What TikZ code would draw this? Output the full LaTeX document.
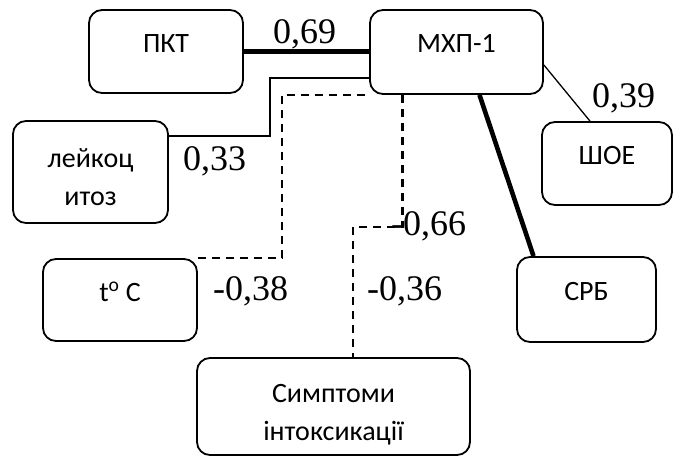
\documentclass[tikz,border=0pt]{standalone}
\usepackage{fontspec}
\setmainfont{Carlito}
\newfontfamily\numfont{Liberation Serif}
\usetikzlibrary{calc}
\newcommand{\boxtxt}[2]{\raisebox{#1}[0pt][0pt]{#2}}
\begin{document}
\begin{tikzpicture}[x=1pt,y=-1pt,
  box/.style={draw, line width=1.8pt, rounded corners=13pt, inner sep=0pt,
              font=\fontsize{28}{38}\selectfont},
  val/.style={font=\numfont\fontsize{36}{36}\selectfont, inner sep=0pt, anchor=base west},
  solidlink/.style={line width=1.3pt},
  heavylink/.style={line width=4.6pt},
  dashlink/.style={line width=2.4pt, dash pattern=on 8pt off 6pt}]
\useasboundingbox (0,0) rectangle (685,456);

\node[box, minimum width=154pt, minimum height=83pt] (pkt) at (166,51.5) {\boxtxt{-0.5pt}{ПКТ}};
\node[box, minimum width=173pt, minimum height=84pt] (mhp) at (456.5,52) {\boxtxt{-0.5pt}{МХП-1}};
\node[box, minimum width=130pt, minimum height=83pt] (shoe) at (607,163.5) {\boxtxt{-0.5pt}{ШОЕ}};
\node[box, minimum width=155pt, minimum height=102pt] (leuk) at (90.5,172)
  {\boxtxt{-33pt}{\begin{tabular}[b]{@{}c@{}}лейкоц\\итоз\end{tabular}}};
\node[box, minimum width=154pt, minimum height=82pt] (tc) at (120,300) {\boxtxt{-1pt}{t\textsuperscript{o} C}};
\node[box, minimum width=139pt, minimum height=85pt] (srb) at (586.5,299.5) {\boxtxt{-0.5pt}{СРБ}};
\node[box, minimum width=273pt, minimum height=97pt] (symp) at (333.5,406.5)
  {\boxtxt{-33.5pt}{\begin{tabular}[b]{@{}c@{}}Симптоми\\інтоксикації\end{tabular}}};

% connectors
\draw[heavylink] (pkt.east) -- (pkt.east -| mhp.west);
\draw[solidlink] ([yshift=-13pt]mhp.east) -- ([xshift=-17pt]shoe.north);
\draw[solidlink] ([yshift=36pt]leuk.east) -- ++(101pt,0pt) |- ([yshift=-26pt]mhp.west);
\draw[dashlink] (tc.north east) -| ($(mhp.south west)+(-87pt,0pt)$) -- (mhp.south west);
\draw[dashlink] ([xshift=-54pt]mhp.south) -- ++(0pt,-132pt) -| ([xshift=19.5pt]symp.north);
\draw[heavylink] ([xshift=23pt]mhp.south) -- ([xshift=-53pt]srb.north);

% values
\node[val] (v1) at (273,43) {0,69};
\node[val] (v2) at (592,107) {0,39};
\node[val] (v3) at (183,170) {0,33};
\node[val] (v4) at (213,300) {-0,38};
\node[val] (v5) at (367,300) {-0,36};
\node[val] (v6) at (391,235) {-0,66};
\end{tikzpicture}
\end{document}
